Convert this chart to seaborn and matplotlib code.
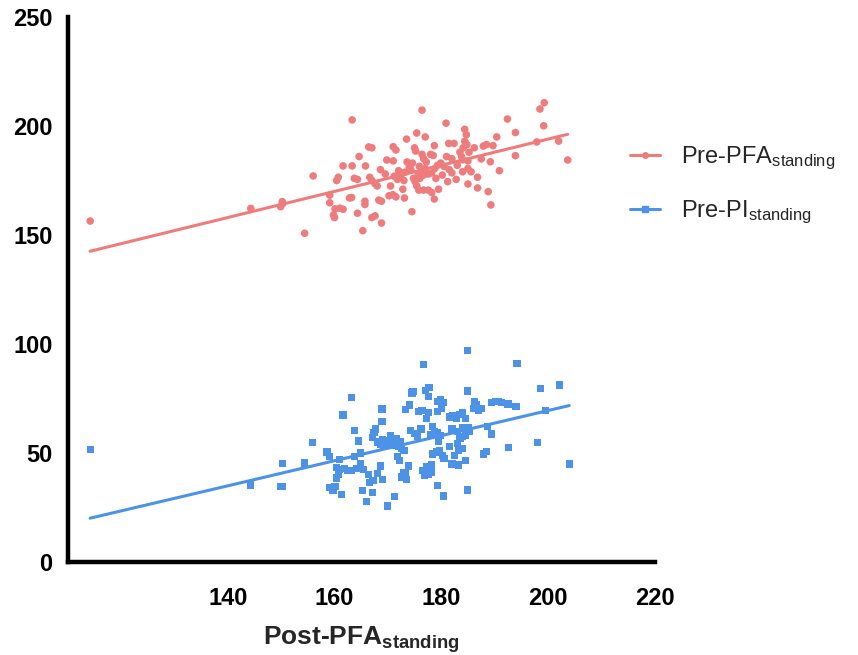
import matplotlib
matplotlib.use("Agg")
import matplotlib.pyplot as plt
from matplotlib.lines import Line2D
import seaborn as sns
import pandas as pd

# ---- data ----
pfa_x = [114.2, 144.3, 149.9, 150.2, 150.3, 154.4, 156.0, 159.1, 159.1, 159.8, 160.0, 160.1, 161.0, 161.6,
         160.4, 160.7, 161.6, 163.3, 162.8, 163.2, 163.3, 163.7, 164.3, 164.6, 164.3, 165.3, 165.7, 165.7,
         165.8, 166.4, 167.0, 166.6, 167.0, 167.6, 168.0, 167.0, 167.6, 168.3, 168.8, 168.8, 168.6, 169.8,
         171.0, 170.2, 170.9, 171.5, 171.0, 171.5, 171.2, 171.8, 172.4, 173.0, 173.1, 173.5, 173.6, 174.0,
         174.3, 174.5, 174.8, 175.1, 175.4, 175.7, 176.3, 176.7, 175.0, 175.2, 175.4, 176.4, 176.4, 176.7,
         175.8, 176.7, 177.6, 178.2, 177.0, 177.0, 177.6, 178.2, 178.8, 179.3, 179.9, 178.0, 178.5, 178.7,
         179.5, 178.7, 180.9, 181.4, 182.4, 181.0, 182.0, 181.5, 182.0, 183.5, 184.1, 184.4, 184.7, 184.4,
         184.0, 185.0, 184.0, 185.0, 185.6, 185.0, 186.2, 186.8, 186.8, 187.5, 187.9, 188.5, 189.7, 188.8,
         189.2, 189.3, 190.4, 190.9, 192.4, 193.9, 193.9, 197.9, 198.5, 199.3, 199.2, 202.0, 203.7,
         172.0, 173.2, 174.6, 175.9, 177.2, 179.0, 180.2, 170.5, 169.5, 172.8, 176.0, 180.5, 183.0, 182.8,
         181.2, 184.8, 185.2, 183.8]
pfa_y = [156.4, 162.2, 163.0, 165.3, 164.5, 150.8, 177.1, 168.3, 164.8, 159.2, 158.0, 162.0, 162.3, 161.8,
         175.0, 176.5, 181.7, 181.7, 167.0, 167.2, 202.8, 176.0, 175.5, 186.0, 160.0, 152.0, 164.0, 165.5,
         181.7, 190.4, 190.0, 176.5, 175.0, 173.5, 172.5, 158.0, 158.8, 166.0, 165.5, 155.5, 180.0, 184.4,
         184.0, 168.0, 168.5, 167.5, 190.5, 189.0, 177.0, 175.5, 176.5, 175.0, 167.0, 194.0, 183.5, 181.0,
         180.0, 160.7, 176.0, 174.5, 172.5, 178.0, 179.0, 177.5, 190.0, 188.5, 196.8, 207.3, 187.0, 185.0,
         170.6, 170.6, 170.6, 169.5, 195.0, 180.5, 178.0, 178.5, 180.5, 182.0, 183.0, 187.0, 186.5, 166.5,
         171.0, 191.0, 201.3, 192.0, 192.0, 186.0, 185.0, 180.0, 178.5, 188.0, 190.0, 193.0, 196.0, 198.5,
         184.5, 184.0, 179.0, 180.5, 179.0, 173.4, 190.0, 176.5, 171.6, 184.9, 190.8, 191.5, 191.0, 169.9,
         183.6, 163.8, 195.0, 179.5, 203.2, 197.0, 186.4, 192.7, 207.8, 210.7, 200.1, 193.1, 184.4,
         179.5, 178.8, 183.0, 181.5, 183.5, 176.0, 177.5, 172.5, 178.0, 171.0, 176.0, 181.5, 182.0, 175.5,
         174.5, 191.5, 188.0, 186.0]

pi_x = [114.2, 144.3, 149.9, 150.3, 150.3, 154.3, 155.8, 159.0, 158.6, 161.6, 160.9, 160.4, 161.0, 161.9,
        162.5, 163.2, 160.7, 160.4, 159.1, 159.7, 160.1, 161.3, 163.2, 163.8, 164.5, 164.8, 163.8, 164.9,
        165.5, 164.2, 166.0, 165.2, 166.3, 166.6, 167.2, 167.1, 167.7, 167.4, 167.1, 168.0, 168.6, 169.2,
        168.9, 168.9, 168.6, 168.0, 169.0, 169.9, 171.3, 170.5, 171.0, 171.5, 172.0, 172.6, 173.0, 171.8,
        172.2, 173.3, 174.0, 174.5, 173.9, 172.9, 173.5, 174.2, 175.0, 175.5, 176.2, 175.8, 176.4, 177.3,
        177.6, 177.0, 177.6, 176.7, 176.5, 177.2, 178.2, 177.3, 178.1, 178.4, 179.1, 179.7, 180.3, 178.0,
        178.7, 179.3, 179.9, 178.4, 179.3, 180.0, 179.3, 179.8, 180.4, 179.3, 180.4, 181.5, 182.2, 182.8,
        183.4, 184.0, 184.5, 182.0, 183.0, 184.0, 185.0, 185.3, 184.0, 183.5, 184.5, 184.0, 183.2, 184.6,
        183.2, 182.0, 184.9, 184.9, 184.9, 186.0, 186.5, 187.0, 187.5, 186.3, 187.9, 188.5, 188.7, 189.4,
        189.4, 190.1, 190.7, 191.3, 192.5, 194.0, 192.6, 194.2, 198.1, 198.6, 199.5, 202.2, 204.0,
        169.5, 170.2, 170.8, 171.5, 172.3, 169.0, 180.5, 181.5, 182.5, 183.0, 179.5,
        172.5, 173.3, 176.8, 177.5, 174.7, 177.7]
pi_y = [51.7, 35.3, 34.5, 45.3, 34.5, 45.4, 54.7, 48.5, 50.5, 67.4, 47.0, 43.5, 42.5, 42.8,
        42.0, 42.0, 40.0, 38.5, 34.0, 33.0, 34.5, 31.0, 75.4, 60.5, 55.5, 50.0, 48.5, 45.0,
        42.5, 43.0, 27.7, 32.7, 40.0, 36.5, 37.5, 32.0, 61.0, 59.5, 57.0, 55.0, 54.0, 53.0,
        70.2, 64.4, 44.0, 40.5, 38.0, 25.7, 30.0, 58.0, 56.0, 54.5, 53.0, 52.0, 51.0, 48.5,
        46.5, 70.0, 72.0, 77.5, 44.0, 41.0, 38.0, 60.5, 59.0, 57.5, 61.0, 69.0, 69.5, 66.0,
        68.5, 78.5, 76.0, 90.7, 42.0, 40.5, 41.0, 43.6, 44.5, 49.5, 50.5, 51.0, 49.0, 58.5,
        60.0, 59.5, 58.0, 62.0, 69.0, 70.5, 73.5, 74.5, 73.0, 35.0, 30.3, 66.5, 67.0, 66.0,
        67.5, 68.5, 66.0, 61.0, 60.0, 61.5, 61.5, 60.0, 57.5, 56.5, 58.0, 52.0, 51.0, 46.5,
        44.5, 45.0, 78.4, 97.2, 33.0, 70.5, 72.0, 69.5, 70.5, 73.5, 49.5, 50.6, 62.0, 58.7,
        73.0, 73.5, 73.5, 73.0, 72.5, 71.5, 52.4, 91.1, 54.9, 79.5, 69.4, 81.2, 45.0,
        54.5, 55.5, 53.5, 56.5, 55.0, 56.0, 47.5, 53.0, 49.0, 54.5, 55.5,
        39.0, 40.5, 39.5, 40.2, 78.1, 80.0]

series_labels = ["Pre-PFA$_{\\mathregular{standing}}$", "Pre-PI$_{\\mathregular{standing}}$"]
x_label = "Post-PFA$_{\\mathbf{standing}}$"
x_ticks = [140, 160, 180, 200, 220]
y_ticks = [0, 50, 100, 150, 200, 250]

red = "#EF7C7C"
blue = "#4C92E6"

sns.set_style("white")
plt.rcParams["font.family"] = ["Liberation Sans", "DejaVu Sans"]
plt.rcParams["mathtext.fontset"] = "custom"
plt.rcParams["mathtext.rm"] = "Liberation Sans"
plt.rcParams["mathtext.bf"] = "Liberation Sans:bold"
plt.rcParams["mathtext.it"] = "Liberation Sans:italic"

df_pfa = pd.DataFrame({"x": pfa_x, "y": pfa_y})
df_pi = pd.DataFrame({"x": pi_x, "y": pi_y})

fig = plt.figure(figsize=(8.58, 6.55), dpi=100)
ax = fig.add_axes([0.079, 0.142, 0.684, 0.832])

sns.scatterplot(data=df_pfa, x="x", y="y", ax=ax, color=red, marker="o", s=30,
                edgecolor="none", legend=False)
sns.scatterplot(data=df_pi, x="x", y="y", ax=ax, color=blue, marker="s", s=27,
                edgecolor="none", legend=False)
sns.regplot(data=df_pfa, x="x", y="y", ax=ax, scatter=False, ci=None,
            color=red, line_kws={"lw": 2.2})
sns.regplot(data=df_pi, x="x", y="y", ax=ax, scatter=False, ci=None,
            color=blue, line_kws={"lw": 2.2})

ax.set_xlim(110, 220)
ax.set_ylim(0, 250)
ax.set_xticks(x_ticks)
ax.set_yticks(y_ticks)
ax.set_xticklabels([str(t) for t in x_ticks], fontsize=17, fontweight="bold")
ax.set_yticklabels([str(t) for t in y_ticks], fontsize=17, fontweight="bold")
ax.set_xlabel(x_label, fontsize=19, fontweight="bold", labelpad=10)
ax.set_ylabel("")
for side in ["top", "right"]:
    ax.spines[side].set_visible(False)
for side in ["left", "bottom"]:
    ax.spines[side].set_linewidth(3.2)
    ax.spines[side].set_color("black")
ax.tick_params(axis="both", direction="out", length=9, width=3.2, color="black",
               labelcolor="black")
ax.tick_params(axis="x", pad=9)
ax.tick_params(axis="y", pad=2)

handles = [
    Line2D([], [], color=red, lw=2.2, marker="o", markersize=4),
    Line2D([], [], color=blue, lw=2.2, marker="s", markersize=4),
]
fig.legend(handles, series_labels, loc="center left", bbox_to_anchor=(0.734, 0.717),
           frameon=False, fontsize=17, handlelength=1.3, handletextpad=0.85,
           labelspacing=1.15, borderpad=0, borderaxespad=0)

fig.savefig("out.png", dpi=100)
